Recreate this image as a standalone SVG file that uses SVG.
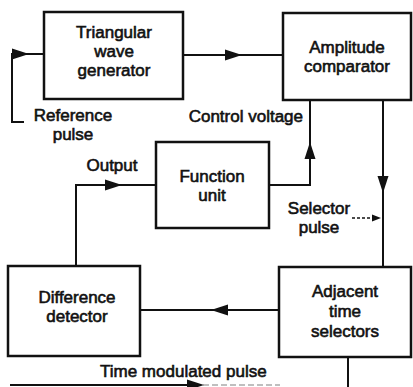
<svg xmlns="http://www.w3.org/2000/svg" width="413" height="387" viewBox="0 0 413 387">
  <style>
    .box { fill: #fff; stroke: #111; stroke-width: 2.5; }
    .ln { fill: none; stroke: #111; stroke-width: 2; }
    .faint { fill: none; stroke: #aaa; stroke-width: 1.5; stroke-dasharray: 6 3; }
    .dash { fill: none; stroke: #111; stroke-width: 1.6; stroke-dasharray: 3 2; }
    text { font-family: "Liberation Sans", Arial, sans-serif; font-size: 17px; font-weight: normal; fill: #111; stroke: #111; stroke-width: 0.6; }
    .c { text-anchor: middle; }
    .ah { fill: #111; }
  </style>
  <defs>
    <path id="ah" d="M0,0 L-17,-5.5 L-17,5.5 Z"/>
    <path id="ahs" d="M0,0 L-9,-3.5 L-9,3.5 Z"/>
  </defs>
  <rect width="413" height="387" fill="#fff"/>

  <g id="connectors">
    <line class="ln" x1="183" y1="55" x2="283" y2="55"/>
    <use href="#ah" class="ah" transform="translate(242,55)"/>

    <polyline class="ln" points="44,54 12,54 12,122 24,122"/>
    <use href="#ah" class="ah" transform="translate(29,54)"/>

    <polyline class="ln" points="269,185 310,185 310,100"/>
    <use href="#ah" class="ah" transform="translate(310,142) rotate(-90)"/>

    <polyline class="ln" points="156,185 76,185 76,266"/>
    <use href="#ah" class="ah" transform="translate(122,185)"/>

    <line class="ln" x1="383" y1="100" x2="383" y2="267"/>
    <use href="#ah" class="ah" transform="translate(383,193) rotate(90)"/>

    <line class="dash" x1="352" y1="218" x2="372" y2="218"/>
    <use href="#ahs" class="ah" transform="translate(381,218)"/>

    <line class="ln" x1="279" y1="310" x2="140" y2="310"/>
    <use href="#ah" class="ah" transform="translate(211,310) rotate(180)"/>

    <line class="ln" x1="10" y1="385" x2="196" y2="385"/>
    <line class="faint" x1="203" y1="385" x2="280" y2="385"/>
    <use href="#ah" class="ah" transform="translate(204,385)"/>

    <line class="ln" x1="348" y1="357" x2="348" y2="387"/>
  </g>

  <g id="triangular-wave-generator">
    <rect class="box" x="44" y="12" width="139" height="87"/>
    <text class="c" x="114" y="38">Triangular</text>
    <text class="c" x="114" y="57">wave</text>
    <text class="c" x="114" y="76">generator</text>
  </g>

  <g id="amplitude-comparator">
    <rect class="box" x="283" y="13" width="128" height="87"/>
    <text class="c" x="347" y="53">Amplitude</text>
    <text class="c" x="347" y="72">comparator</text>
  </g>

  <g id="function-unit">
    <rect class="box" x="156" y="142" width="113" height="86"/>
    <text class="c" x="212" y="182">Function</text>
    <text class="c" x="212" y="201">unit</text>
  </g>

  <g id="difference-detector">
    <rect class="box" x="8" y="266" width="132" height="90"/>
    <text class="c" x="77" y="303">Difference</text>
    <text class="c" x="77" y="322">detector</text>
  </g>

  <g id="adjacent-time-selectors">
    <rect class="box" x="279" y="267" width="132" height="90"/>
    <text class="c" x="345" y="297">Adjacent</text>
    <text class="c" x="345" y="317">time</text>
    <text class="c" x="345" y="337">selectors</text>
  </g>

  <g id="labels">
    <text class="c" x="73" y="121">Reference</text>
    <text class="c" x="73" y="140">pulse</text>
    <text x="303" y="122" text-anchor="end">Control voltage</text>
    <text class="c" x="112" y="171">Output</text>
    <text class="c" x="319" y="214">Selector</text>
    <text class="c" x="319" y="233">pulse</text>
    <text x="100" y="377">Time modulated pulse</text>
  </g>
</svg>
